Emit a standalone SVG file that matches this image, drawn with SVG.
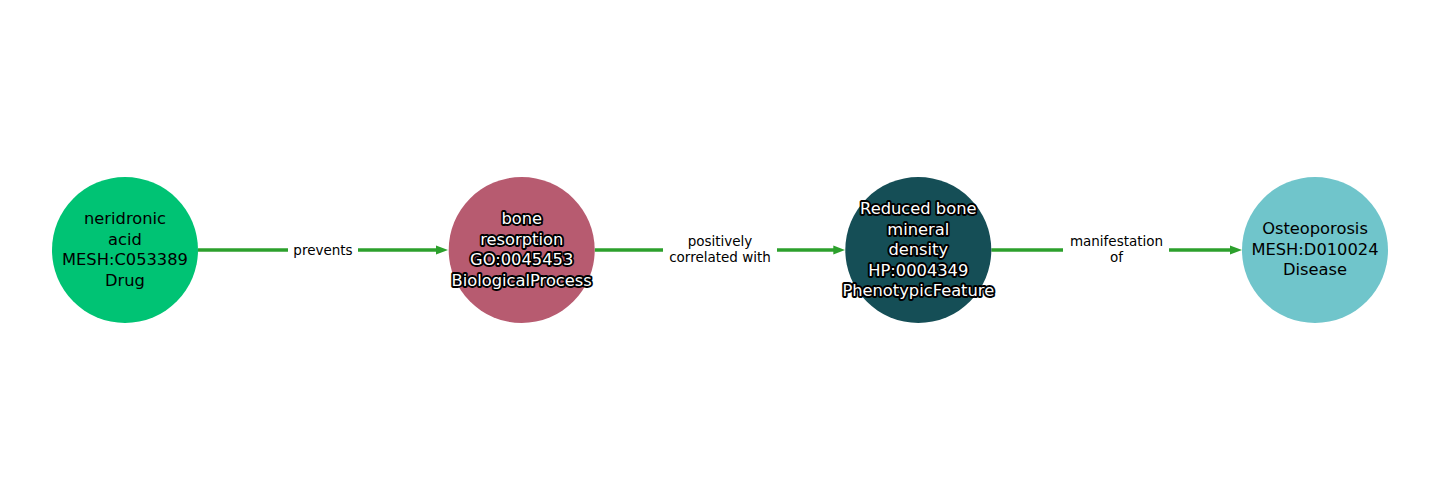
<svg xmlns="http://www.w3.org/2000/svg" width="1440" height="500" viewBox="0 0 1440 500">
<style>
.edge{stroke:#2ca02c;stroke-width:3.6;fill:none;marker-end:url(#arr)}
.lblbg{fill:#ffffff}
.elbl{font-family:"DejaVu Sans",sans-serif;font-size:13.5px;fill:#000000;text-anchor:middle}
.nlbl{font-family:"DejaVu Sans",sans-serif;font-size:16.3px;text-anchor:middle;fill:#000000}
.outl{fill:#ffffff;stroke:#000000;stroke-width:3.8;paint-order:stroke;stroke-linejoin:round}
</style>
<defs>
<marker id="arr" markerWidth="12" markerHeight="10" refX="5" refY="5" orient="auto" markerUnits="userSpaceOnUse">
<path d="M0,0.5 L12,5 L0,9.5 Z" fill="#2ca02c"/>
</marker>
</defs>
<rect width="1440" height="500" fill="#ffffff"/>
<g id="connectors">
<g id="e1">
<line class="edge" x1="198" y1="250" x2="441" y2="250"/>
<rect class="lblbg" x="288" y="239" width="70" height="22"/>
<text class="elbl" x="323" y="254.5">prevents</text>
</g>
<g id="e2">
<line class="edge" x1="594.7" y1="250" x2="838.3" y2="250"/>
<rect class="lblbg" x="663" y="232" width="114" height="36"/>
<text class="elbl" x="720" y="246">positively</text>
<text class="elbl" x="720" y="262">correlated with</text>
</g>
<g id="e3">
<line class="edge" x1="991.3" y1="250" x2="1235" y2="250"/>
<rect class="lblbg" x="1063" y="232" width="106" height="36"/>
<text class="elbl" x="1116.5" y="246">manifestation</text>
<text class="elbl" x="1116.5" y="262">of</text>
</g>
</g>
<g id="n1">
<circle cx="125" cy="250" r="73" fill="#00c374"/>
<text class="nlbl" x="125" y="224">neridronic</text>
<text class="nlbl" x="125" y="244.5">acid</text>
<text class="nlbl" x="125" y="265">MESH:C053389</text>
<text class="nlbl" x="125" y="285.5">Drug</text>
</g>
<g id="n2">
<circle cx="521.7" cy="250" r="73" fill="#b75b70"/>
<text class="nlbl outl" x="521.7" y="224">bone</text>
<text class="nlbl outl" x="521.7" y="244.5">resorption</text>
<text class="nlbl outl" x="521.7" y="265">GO:0045453</text>
<text class="nlbl outl" x="521.7" y="285.5">BiologicalProcess</text>
</g>
<g id="n3">
<circle cx="918.3" cy="250" r="73" fill="#154e56"/>
<text class="nlbl outl" x="918.3" y="214">Reduced bone</text>
<text class="nlbl outl" x="918.3" y="234.5">mineral</text>
<text class="nlbl outl" x="918.3" y="255">density</text>
<text class="nlbl outl" x="918.3" y="275.5">HP:0004349</text>
<text class="nlbl outl" x="918.3" y="296">PhenotypicFeature</text>
</g>
<g id="n4">
<circle cx="1315" cy="250" r="73" fill="#70c5cb"/>
<text class="nlbl" x="1315" y="234">Osteoporosis</text>
<text class="nlbl" x="1315" y="254.5">MESH:D010024</text>
<text class="nlbl" x="1315" y="275">Disease</text>
</g>
</svg>
